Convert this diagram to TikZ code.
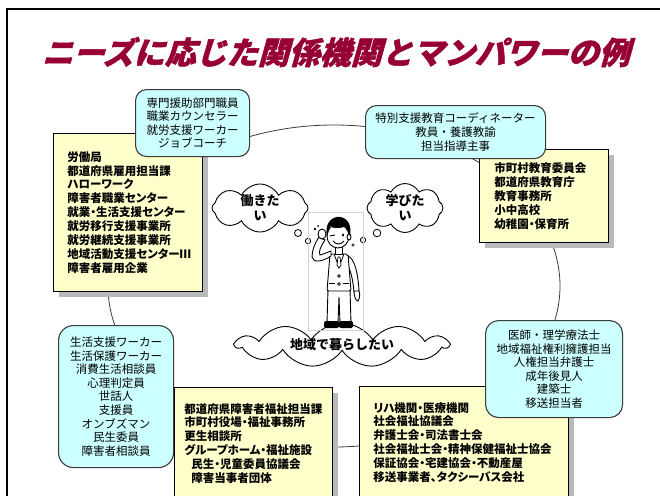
\documentclass[tikz,border=0pt]{standalone}
\usepackage{fontspec}
\setmainfont{Noto Sans CJK JP}
\newfontfamily\propfont{Noto Sans CJK JP}[RawFeature=+palt]
\newfontfamily\titlefont{Noto Sans CJK JP}[FakeSlant=0.28,FakeBold=1.6]
\usetikzlibrary{shapes.symbols,shadows}
\definecolor{titlered}{RGB}{150,0,50}
\definecolor{cyanfill}{RGB}{204,255,255}
\definecolor{yellowfill}{RGB}{255,255,204}
\definecolor{rimgray}{RGB}{60,60,60}
\tikzset{
  staffbox/.style={draw=rimgray, line width=1.1pt, fill=cyanfill, rounded corners=11pt,
    align=center, inner sep=0pt, anchor=north west,
    font=\fontsize{11.5}{13.6}\selectfont},
  agencybox/.style={draw=black, line width=0.9pt, fill=yellowfill, align=left,
    inner ysep=0pt, anchor=north west,
    font=\propfont\bfseries\fontsize{11.5}{13.9}\selectfont,
    drop shadow={shadow xshift=6pt, shadow yshift=-6pt, fill=black!27, opacity=1}},
  thought/.style={cloud, cloud ignores aspect, draw=black, line width=0.9pt, fill=white, inner sep=0pt,
    align=center, font=\bfseries\fontsize{13}{15}\selectfont},
  ring/.style={draw=rimgray, line width=0.8pt},
  bubble/.style={draw=black, line width=0.8pt, fill=white},
  figline/.style={draw=black, line width=0.9pt, fill=white},
}
\begin{document}
\begin{tikzpicture}[x=1pt, y=-1pt]
\useasboundingbox (0,0) rectangle (660,495);
\clip (0,0) rectangle (660,495);
\fill[white] (0,0) rectangle (660,495);

% outer frame
\draw[line width=2pt] (7,520) -- (7,9) -- (680,9);

% title
\node[font=\titlefont\bfseries\fontsize{31}{31}\selectfont, text=titlered] (title)
  at (336,52) {ニーズに応じた関係機関とマンパワーの例};

% ring linking the groups
\draw[ring] (334,286) ellipse (226pt and 161pt);

% agency (yellow) boxes
\node[agencybox, inner xsep=14pt, text width=121pt, minimum width=149pt, minimum height=158pt] (agwork) at (53,133)
  {労働局\\都道府県雇用担当課\\ハローワーク\\障害者職業センター\\就業・生活支援センター\\就労移行支援事業所\\就労継続支援事業所\\地域活動支援センターⅢ\\障害者雇用企業};
\node[agencybox, inner xsep=15pt, text width=99pt, minimum width=129pt, minimum height=93pt] (agedu) at (479,149)
  {市町村教育委員会\\都道府県教育庁\\教育事務所\\小中高校\\幼稚園・保育所};
\node[agencybox, inner xsep=10pt, text width=138pt, minimum width=158pt, minimum height=112pt] (aglife) at (174,387)
  {都道府県障害者福祉担当課\\市町村役場・福祉事務所\\更生相談所\\グループホーム・福祉施設\\\hspace*{7pt}民生・児童委員協議会\\\hspace*{7pt}障害当事者団体};
\node[agencybox, inner xsep=14pt, text width=181pt, minimum width=209pt, minimum height=112pt] (agmed) at (359,386)
  {リハ機関・医療機関\\社会福祉協議会\\弁護士会・司法書士会\\社会福祉士会・精神保健福祉士協会\\保証協会・宅建協会・不動産屋\\移送事業者、タクシーバス会社};

% staff (cyan) boxes
\node[staffbox, minimum width=114pt, minimum height=67pt] (staffwork) at (135,89)
  {専門援助部門職員\\職業カウンセラー\\就労支援ワーカー\\ジョブコーチ};
\node[staffbox, minimum width=180pt, minimum height=53pt] (staffedu) at (365,105)
  {特別支援教育コーディネーター\\教員・養護教諭\\担当指導主事};
\node[staffbox, rounded corners=15pt, minimum width=115pt, minimum height=142pt] (stafflife) at (58,325)
  {生活支援ワーカー\\生活保護ワーカー\\消費生活相談員\\心理判定員\\世話人\\支援員\\オンブズマン\\民生委員\\障害者相談員};
\node[staffbox, rounded corners=13pt, minimum width=137pt, minimum height=97pt] (staffmed) at (485,320)
  {医師・理学療法士\\地域福祉権利擁護担当\\人権担当弁護士\\成年後見人\\建築士\\移送担当者};

% thought clouds
\node[thought, cloud puffs=8, cloud puff arc=125, minimum width=96pt, minimum height=48pt] (wantwork) at (260,208) {働きた\\い};
\node[thought, cloud puffs=8, cloud puff arc=125, minimum width=76pt, minimum height=49pt] (wantlearn) at (405,208) {学びた\\い};
\node[thought, cloud puffs=11, cloud puff arc=115, minimum width=212pt, minimum height=44pt] (wantlive) at (342,345) {地域で暮らしたい};

% thought bubbles
\draw[bubble] (298,233) circle (3.5pt);
\draw[bubble] (308,241) circle (2.7pt);
\draw[bubble] (377,233) circle (3.8pt);
\draw[bubble] (363,240) circle (2.7pt);

% the person
\draw[gray!35, line width=0.4pt] (308,212) rectangle (363,330);
% legs
\draw[figline] (328,289) -- (327,323) -- (338,323) -- (339,297) -- (340,323) -- (351,323) -- (350,289) -- cycle;
\fill[rounded corners=2pt] (324,321) rectangle (339,328);
\fill[rounded corners=2pt] (339,321) rectangle (353,328);
% hanging arm
\draw[figline] (348,256) .. controls (355,259) and (358,274) .. (359,291) -- (354,292) .. controls (353,280) and (351,272) .. (348,266) -- cycle;
\draw[figline] (354,291) .. controls (354,297) and (356,301) .. (358,301) .. controls (360,298) and (360,294) .. (359,291) -- cycle;
% jacket
\draw[figline, rounded corners=2pt] (330,254) -- (348,254) -- (351,291) -- (327,291) -- cycle;
\draw[line width=0.8pt] (334,254) -- (339,267) -- (344,254);
\draw[figline, line width=0.7pt] (338,257) -- (340,257) -- (341,265) -- (339,268) -- (337,265) -- cycle;
\draw[line width=0.7pt] (339,276) circle (1.3pt);
\draw[line width=0.7pt] (339,284) circle (1.3pt);
\draw[line width=0.8pt] (329,283) -- (335,283);
\draw[line width=0.8pt] (343,283) -- (349,283);
% raised arm
\draw[figline] (331,256) .. controls (322,262) and (313,263) .. (312,257) .. controls (312,250) and (315,243) .. (319,237) -- (325,240) .. controls (321,246) and (318,252) .. (320,255) .. controls (324,254) and (328,252) .. (331,251) -- cycle;
% neck and head
\draw[figline] (335,245) rectangle (342,254);
\draw[figline] (338,236) ellipse (11pt and 12pt);
\draw[figline] (349,237) ellipse (2pt and 3pt);
\fill (327,237) .. controls (324,222) and (333,216) .. (340,217) .. controls (348,218) and (352,226) .. (350,236) .. controls (348,231) and (346,228) .. (344,227) .. controls (338,229) and (332,228) .. (330,226) .. controls (329,230) and (328,233) .. (327,237) -- cycle;
\draw[figline] (322,234) ellipse (4pt and 5pt);
\draw[line width=0.9pt] (330,236) -- (335,235);
\fill (343,235) ellipse (1.1pt and 1.7pt);
\draw[line width=0.9pt] (333,241) .. controls (336,245) and (341,245) .. (344,241);
\fill (315,229) circle (1.3pt);
\fill (318,226) circle (1pt);
\draw[line width=0.6pt] (353,245) circle (1.2pt);
\end{tikzpicture}
\end{document}
